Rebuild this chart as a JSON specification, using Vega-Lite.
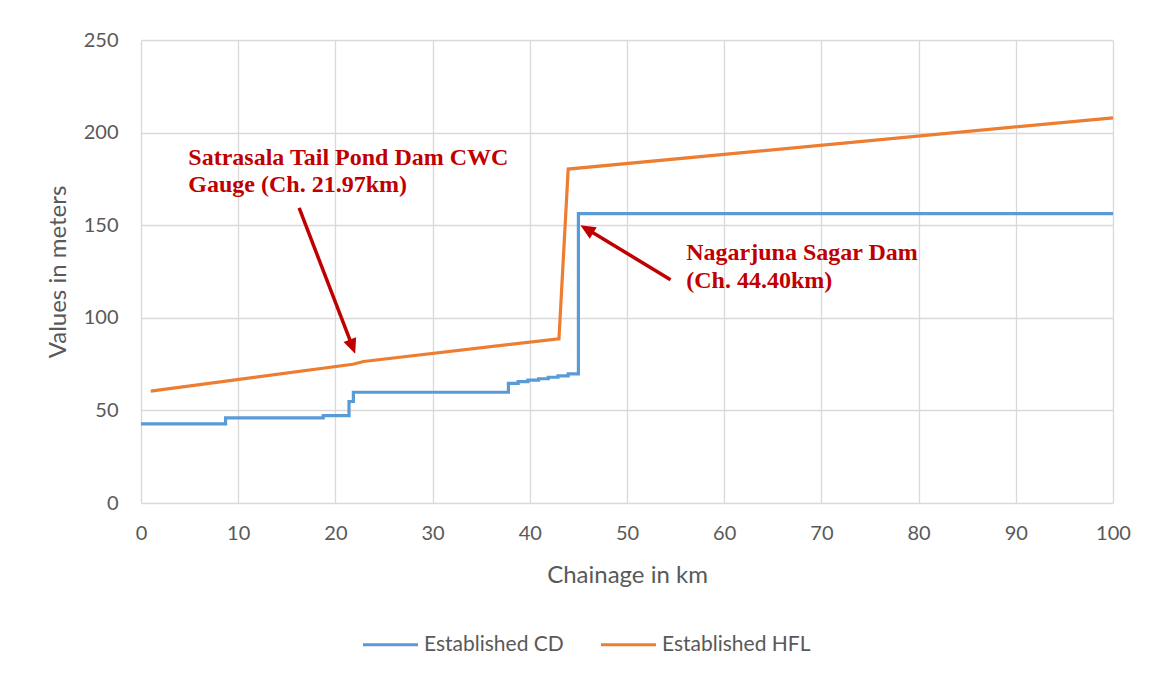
{
  "$schema": "https://vega.github.io/schema/vega-lite/v6.json",
  "width": 972,
  "height": 463,
  "autosize": {"type": "none"},
  "padding": {"left": 141, "top": 40, "right": 39, "bottom": 174},
  "background": "white",
  "config": {
    "view": {"stroke": null},
    "axis": {
      "gridColor": "#d9d9d9",
      "gridWidth": 1.3,
      "domain": false,
      "ticks": false,
      "labelFlush": false,
      "labelFont": "Lato",
      "labelFontSize": 20,
      "labelColor": "#595959",
      "titleFont": "Lato",
      "titleFontSize": 24,
      "titleFontWeight": "normal",
      "titleColor": "#595959"
    }
  },
  "datasets": {
    "lines": [
      {"series": "Established CD", "i": 0, "km": 0, "m": 42.7},
      {"series": "Established CD", "i": 1, "km": 8.7, "m": 42.7},
      {"series": "Established CD", "i": 2, "km": 8.7, "m": 46.0},
      {"series": "Established CD", "i": 3, "km": 18.75, "m": 46.0},
      {"series": "Established CD", "i": 4, "km": 18.75, "m": 47.2},
      {"series": "Established CD", "i": 5, "km": 21.4, "m": 47.2},
      {"series": "Established CD", "i": 6, "km": 21.4, "m": 54.8},
      {"series": "Established CD", "i": 7, "km": 21.85, "m": 54.8},
      {"series": "Established CD", "i": 8, "km": 21.85, "m": 59.8},
      {"series": "Established CD", "i": 9, "km": 37.8, "m": 59.8},
      {"series": "Established CD", "i": 10, "km": 37.8, "m": 64.6},
      {"series": "Established CD", "i": 11, "km": 38.8, "m": 64.6},
      {"series": "Established CD", "i": 12, "km": 38.8, "m": 65.5},
      {"series": "Established CD", "i": 13, "km": 39.8, "m": 65.5},
      {"series": "Established CD", "i": 14, "km": 39.8, "m": 66.4},
      {"series": "Established CD", "i": 15, "km": 40.9, "m": 66.4},
      {"series": "Established CD", "i": 16, "km": 40.9, "m": 67.1},
      {"series": "Established CD", "i": 17, "km": 41.9, "m": 67.1},
      {"series": "Established CD", "i": 18, "km": 41.9, "m": 67.9},
      {"series": "Established CD", "i": 19, "km": 42.9, "m": 67.9},
      {"series": "Established CD", "i": 20, "km": 42.9, "m": 68.6},
      {"series": "Established CD", "i": 21, "km": 43.95, "m": 68.6},
      {"series": "Established CD", "i": 22, "km": 43.95, "m": 69.7},
      {"series": "Established CD", "i": 23, "km": 45.0, "m": 69.7},
      {"series": "Established CD", "i": 24, "km": 45.0, "m": 156.3},
      {"series": "Established CD", "i": 25, "km": 100, "m": 156.3},
      {"series": "Established HFL", "i": 0, "km": 1.0, "m": 60.4},
      {"series": "Established HFL", "i": 1, "km": 21.8, "m": 74.9},
      {"series": "Established HFL", "i": 2, "km": 22.9, "m": 76.4},
      {"series": "Established HFL", "i": 3, "km": 43.0, "m": 88.7},
      {"series": "Established HFL", "i": 4, "km": 43.95, "m": 180.3},
      {"series": "Established HFL", "i": 5, "km": 100, "m": 208.0}
    ],
    "arrows": [
      {"name": "gauge", "x0": 16.27, "y0": 159.3, "x1": 21.76, "y1": 84.4},
      {"name": "dam", "x0": 54.48, "y0": 120.6, "x1": 45.87, "y1": 147.9}
    ],
    "notes": [
      {"label": "Satrasala Tail Pond Dam CWC", "km": 4.87, "m": 182.4},
      {"label": "Gauge (Ch. 21.97km)", "km": 4.87, "m": 167.7},
      {"label": "Nagarjuna Sagar Dam", "km": 56.1, "m": 131.0},
      {"label": "(Ch. 44.40km)", "km": 56.1, "m": 116.2}
    ]
  },
  "layer": [
    {
      "data": {"name": "lines"},
      "mark": {"type": "line", "strokeWidth": 3.2, "strokeCap": "butt"},
      "encoding": {
        "x": {
          "field": "km", "type": "quantitative", "title": "Chainage in km",
          "scale": {"domain": [0, 100], "nice": false, "zero": false},
          "axis": {"values": [0,10,20,30,40,50,60,70,80,90,100], "labelPadding": 20, "titleY": 79, "titleBaseline": "alphabetic"}
        },
        "y": {
          "field": "m", "type": "quantitative", "title": "Values in meters",
          "scale": {"domain": [0, 250], "nice": false},
          "axis": {"values": [0,50,100,150,200,250], "labelPadding": 23, "titleAngle": -90, "titleX": -83, "titleY": 231.5, "titleAlign": "center", "titleBaseline": "middle"}
        },
        "color": {
          "field": "series", "type": "nominal",
          "scale": {"domain": ["Established CD", "Established HFL"], "range": ["#5B9BD5", "#ED7D31"]},
          "legend": {
            "title": null, "orient": "none", "direction": "horizontal",
            "legendX": 220, "legendY": 575,
            "symbolType": "stroke", "symbolSize": 3025, "symbolStrokeWidth": 3.2,
            "labelFont": "Lato", "labelFontSize": 21, "labelColor": "#595959",
            "labelOffset": 4, "columnPadding": 30
          }
        },
        "order": {"field": "i", "type": "quantitative"}
      }
    },
    {
      "data": {"name": "arrows"},
      "mark": {"type": "rule", "color": "#C00000", "strokeWidth": 3.5},
      "encoding": {
        "x": {"field": "x0", "type": "quantitative", "title": "Chainage in km"},
        "y": {"field": "y0", "type": "quantitative", "title": "Values in meters"},
        "x2": {"field": "x1"},
        "y2": {"field": "y1"}
      }
    },
    {
      "data": {"name": "arrows"},
      "transform": [{"filter": "datum.name === 'gauge'"}],
      "mark": {"type": "point", "shape": "M0,-1L0.9,1L-0.9,1Z", "filled": true, "color": "#C00000", "opacity": 1, "size": 225, "angle": 159},
      "encoding": {
        "x": {"field": "x1", "type": "quantitative", "title": "Chainage in km"},
        "y": {"field": "y1", "type": "quantitative", "title": "Values in meters"}
      }
    },
    {
      "data": {"name": "arrows"},
      "transform": [{"filter": "datum.name === 'dam'"}],
      "mark": {"type": "point", "shape": "M0,-1L0.9,1L-0.9,1Z", "filled": true, "color": "#C00000", "opacity": 1, "size": 225, "angle": 301},
      "encoding": {
        "x": {"field": "x1", "type": "quantitative", "title": "Chainage in km"},
        "y": {"field": "y1", "type": "quantitative", "title": "Values in meters"}
      }
    },
    {
      "data": {"name": "notes"},
      "mark": {"type": "text", "font": "Liberation Serif", "fontWeight": "bold", "fontSize": 24, "color": "#C00000", "align": "left", "baseline": "alphabetic"},
      "encoding": {
        "x": {"field": "km", "type": "quantitative", "title": "Chainage in km"},
        "y": {"field": "m", "type": "quantitative", "title": "Values in meters"},
        "text": {"field": "label"}
      }
    }
  ]
}
